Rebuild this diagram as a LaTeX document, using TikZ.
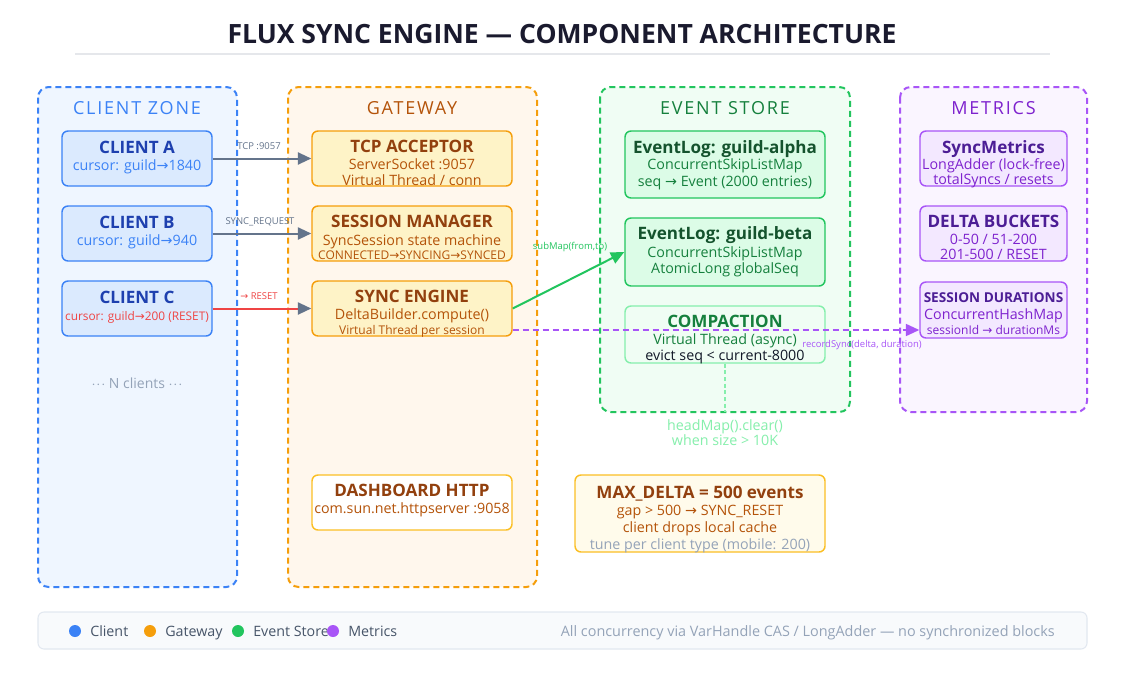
\documentclass[tikz,border=0pt]{standalone}
\usepackage{fontspec}
\setmainfont{Open Sans}
\newfontfamily\arrfont{DejaVu Sans}
\usetikzlibrary{arrows.meta,calc}
\newcommand\myarr{{\arrfont →}}
\definecolor{ttl}{HTML}{1A1A2E}
\definecolor{rule}{HTML}{E5E7EB}
\definecolor{cblue}{HTML}{3B82F6}
\definecolor{cbluefill}{HTML}{DBEAFE}
\definecolor{cbluezone}{HTML}{EFF6FF}
\definecolor{cbluedark}{HTML}{1E40AF}
\definecolor{corange}{HTML}{F59E0B}
\definecolor{corangefill}{HTML}{FEF3C7}
\definecolor{corangezone}{HTML}{FFF7ED}
\definecolor{obrown}{HTML}{92400E}
\definecolor{osub}{HTML}{B45309}
\definecolor{olight}{HTML}{FBBF24}
\definecolor{maxfill}{HTML}{FFFBEB}
\definecolor{cgreen}{HTML}{22C55E}
\definecolor{cgreenfill}{HTML}{DCFCE7}
\definecolor{cgreenzone}{HTML}{F0FDF4}
\definecolor{gdark}{HTML}{14532D}
\definecolor{gsub}{HTML}{15803D}
\definecolor{glight}{HTML}{86EFAC}
\definecolor{cpurple}{HTML}{A855F7}
\definecolor{cpurplefill}{HTML}{F3E8FF}
\definecolor{cpurplezone}{HTML}{FAF5FF}
\definecolor{pdark}{HTML}{4C1D95}
\definecolor{psub}{HTML}{7E22CE}
\definecolor{slate}{HTML}{64748B}
\definecolor{slatedark}{HTML}{475569}
\definecolor{muted}{HTML}{94A3B8}
\definecolor{cred}{HTML}{EF4444}
\definecolor{legfill}{HTML}{F8FAFC}
\definecolor{legline}{HTML}{E2E8F0}
\definecolor{ink}{HTML}{111827}
\tikzset{
  zone/.style={line width=1.5pt, dash pattern=on 4.5pt off 3pt, rounded corners=8pt},
  zlabel/.style={inner sep=0, anchor=base, font=\fontsize{13.5}{15}\selectfont\addfontfeature{LetterSpace=10}},
  card/.style={inner sep=0, rounded corners=4.5pt, line width=1.1pt},
  ttlA/.style={inner sep=0, anchor=base, font=\fontsize{12.8}{14}\selectfont\bfseries},
  subA/.style={inner sep=0, anchor=base, font=\fontsize{10.7}{12}\selectfont},
  subS/.style={inner sep=0, anchor=base, font=\fontsize{9.0}{10}\selectfont},
  elbl/.style={inner sep=0, anchor=base, font=\fontsize{7.1}{8}\selectfont},
  flow/.style={line width=1.5pt, -{Triangle[length=10pt,width=9pt]}},
  legtxt/.style={inner sep=0, anchor=base west, font=\fontsize{10.7}{12}\selectfont, text=slatedark},
}
\begin{document}
\begin{tikzpicture}[x=0.75pt,y=-0.75pt]
\useasboundingbox (0,0) rectangle (1125,675);
\fill[white] (0,0) rectangle (1125,675);

% title
\node[inner sep=0, anchor=base, font=\fontsize{19.9}{22}\selectfont\bfseries, text=ttl] (title) at (562,43) {FLUX SYNC ENGINE — COMPONENT ARCHITECTURE};
\draw[rule, line width=1.5pt] (75,54) -- (1050,54);

% zones
\draw[zone, draw=cblue, fill=cbluezone] (38,87) rectangle (237,587);
\draw[zone, draw=corange, fill=corangezone] (288,87) rectangle (537,587);
\draw[zone, draw=cgreen, fill=cgreenzone] (600,87) rectangle (850,412);
\draw[zone, draw=cpurple, fill=cpurplezone] (900,87) rectangle (1087,412);
\node[zlabel, text=cblue] (zc) at (137,114) {CLIENT ZONE};
\node[zlabel, text=osub] (zg) at (412,114) {GATEWAY};
\node[zlabel, text=gsub] (ze) at (725,114) {EVENT STORE};
\node[zlabel, text=psub] (zm) at (993.5,114) {METRICS};

% clients
\tikzset{cbox/.style={card, draw=cblue, fill=cbluefill, minimum width=112.5pt, minimum height=41.25pt}}
\node[cbox] (ca) at (137,158.5) {};
\node[cbox] (cb) at (137,233.5) {};
\node[cbox] (cc) at (137,308.5) {};
\node[ttlA, text=cbluedark] (cat) at (137,153) {CLIENT A};
\node[subA, text=cblue] (cas) at (137,170) {cursor: guild\myarr1840};
\node[ttlA, text=cbluedark] (cbt) at (137,228) {CLIENT B};
\node[subA, text=cblue] (cbs) at (137,245) {cursor: guild\myarr940};
\node[ttlA, text=cbluedark] (cct) at (137,303) {CLIENT C};
\node[inner sep=0, anchor=base, font=\fontsize{8.9}{11}\selectfont, text=cred] (ccs) at (137,320) {cursor: guild\myarr200 (RESET)};
\node[inner sep=0, anchor=base, font=\fontsize{10.5}{12}\selectfont, text=muted] (nc) at (137,388) {$\cdot\!\cdot\!\cdot$ N clients $\cdot\!\cdot\!\cdot$};

% gateway
\tikzset{gbox/.style={card, draw=corange, fill=corangefill, minimum width=150pt, minimum height=41.25pt}}
\node[gbox] (tcp) at (412,158.5) {};
\node[gbox] (sm) at (412,233.5) {};
\node[gbox] (se) at (412,308.5) {};
\node[card, draw=olight, fill=white, minimum width=150pt, minimum height=41.25pt] (dh) at (412,502.5) {};
\node[ttlA, text=obrown] at (412,152) {TCP ACCEPTOR};
\node[subA, text=osub] at (412,169) {ServerSocket :9057};
\node[subA, text=osub] at (412,185) {Virtual Thread / conn};
\node[ttlA, text=obrown] at (412,227) {SESSION MANAGER};
\node[subA, text=osub] at (412,245) {SyncSession state machine};
\node[subS, text=osub] at (412,259) {CONNECTED\myarr SYNCING\myarr SYNCED};
\node[ttlA, text=obrown] at (412,302) {SYNC ENGINE};
\node[subA, text=osub] at (412,319) {DeltaBuilder.compute()};
\node[subS, text=osub] at (412,334) {Virtual Thread per session};
\node[ttlA, text=obrown] at (412,496) {DASHBOARD HTTP};
\node[subA, text=osub] at (412,513) {com.sun.net.httpserver :9058};

% event store
\node[card, draw=cgreen, fill=cgreenfill, minimum width=150pt, minimum height=50.25pt] (ga) at (725,164.5) {};
\node[card, draw=cgreen, fill=cgreenfill, minimum width=150pt, minimum height=51pt] (gb) at (725,252) {};
\node[card, draw=glight, fill=cgreenzone, minimum width=150pt, minimum height=42.75pt] (cp) at (725,334.5) {};
\node[ttlA, text=gdark] at (725,153) {EventLog: guild-alpha};
\node[subA, text=gsub] at (725,169) {ConcurrentSkipListMap};
\node[subA, text=gsub] at (725,186) {seq \myarr\ Event (2000 entries)};
\node[ttlA, text=gdark] at (725,239) {EventLog: guild-beta};
\node[subA, text=gsub] at (725,257) {ConcurrentSkipListMap};
\node[subA, text=gsub] at (725,273) {AtomicLong globalSeq};
\node[ttlA, text=gsub] at (725,327) {COMPACTION};
\node[subA, text=gsub] at (725,344) {Virtual Thread (async)};
\node[subA, text=ink] at (725,360) {evict seq < current-8000};
\coordinate (zb) at (725,412);
\draw[glight, line width=1pt, dash pattern=on 3pt off 2pt] (cp.south) -- (zb);
\node[subA, text=glight] (hm1) at (725,430) {headMap().clear()};
\node[subA, text=glight] (hm2) at (725,445) {when size > 10K};

% metrics
\tikzset{mbox/.style={card, draw=cpurple, fill=cpurplefill, minimum width=110.25pt, minimum height=41.25pt}}
\node[mbox] (smx) at (993.5,158.5) {};
\node[mbox] (db) at (993.5,233.5) {};
\node[card, draw=cpurple, fill=cpurplefill, minimum width=110.25pt, minimum height=42pt] (sd) at (993.5,310) {};
\node[ttlA, text=pdark] at (993.5,153) {SyncMetrics};
\node[subA, text=psub] at (993.5,169) {LongAdder (lock-free)};
\node[subA, text=psub] at (993.5,184) {totalSyncs / resets};
\node[ttlA, text=pdark] at (993.5,227) {DELTA BUCKETS};
\node[subA, text=psub] at (993.5,244) {0-50 / 51-200};
\node[subA, text=psub] at (993.5,259) {201-500 / RESET};
\node[inner sep=0, anchor=base, font=\fontsize{10.2}{11}\selectfont\bfseries, text=pdark] at (993.5,302) {SESSION DURATIONS};
\node[subA, text=psub] at (993.5,319) {ConcurrentHashMap};
\node[subS, text=psub] at (993.5,334) {sessionId \myarr\ durationMs};

% max delta
\node[card, draw=olight, fill=maxfill, minimum width=187.5pt, minimum height=57.75pt] (md) at (700,513.5) {};
\node[ttlA, text=obrown] at (700,498) {MAX\_DELTA = 500 events};
\node[subA, text=osub] at (700,515) {gap > 500 \myarr\ SYNC\_RESET};
\node[subA, text=osub] at (700,532) {client drops local cache};
\node[subA, text=muted] at (700,549) {tune per client type (mobile: 200)};

% connectors
\draw[flow, slate] (ca.east) -- (tcp.west);
\node[elbl, text=slate] at (259,149) {TCP :9057};
\draw[flow, slate] (cb.east) -- (sm.west);
\node[elbl, text=slate] at (260,224) {SYNC\_REQUEST};
\draw[line width=1.5pt, cred, -{Triangle[length=10pt,width=9pt,color=slate]}] (cc.east) -- (se.west);
\node[elbl, text=cred] at (259,299) {\myarr\ RESET};
\draw[flow, cgreen] (se.east) -- (gb.west);
\node[elbl, text=cgreen] at (570,249) {subMap(from,to)};
\coordinate (rs) at ($(se.east)+(0,21.5)$);
\draw[line width=1.2pt, cpurple, dash pattern=on 4.5pt off 3pt, -{Triangle[length=10pt,width=9pt]}] (rs) -- (sd.west |- rs);
\node[elbl, text=cpurple] at (862,347) {recordSync(delta, duration)};

% legend
\draw[legline, fill=legfill, line width=0.8pt, rounded corners=4.5pt] (38,612) rectangle (1087,649);
\fill[cblue] (75,631) circle (4.5pt);
\node[legtxt] at (90,636) {Client};
\fill[corange] (150,631) circle (4.5pt);
\node[legtxt] at (165,636) {Gateway};
\fill[cgreen] (238,631) circle (4.5pt);
\node[legtxt] at (253,636) {Event Store};
\fill[cpurple] (333,631) circle (4.5pt);
\node[legtxt] at (348,636) {Metrics};
\node[inner sep=0, anchor=base east, font=\fontsize{10.8}{12}\selectfont, text=muted] at (1055,636) {All concurrency via VarHandle CAS / LongAdder — no synchronized blocks};
\end{tikzpicture}
\end{document}
